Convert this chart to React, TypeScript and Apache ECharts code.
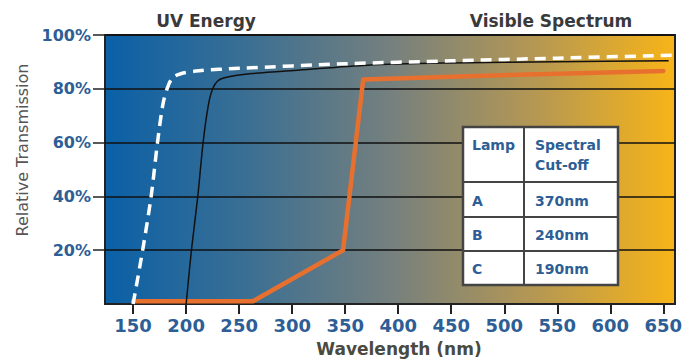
import React, { useEffect, useRef } from "react";
import * as echarts from "echarts";

const xTicks = [150, 200, 250, 300, 350, 400, 450, 500, 550, 600, 650];
const yTicks = [20, 40, 60, 80, 100];

const lampA: [number, number][] = [
  [150, 1], [263, 1], [348, 20], [367, 83.5], [450, 84.5], [550, 85.6], [650, 86.6],
];
const lampB: [number, number][] = [
  [200, 0], [205, 20], [211, 40], [216, 60], [221, 74], [225, 80], [230, 83], [238, 84.3],
  [260, 85.6], [307, 87], [371, 88.8], [450, 89.6], [550, 90.1], [655, 90.4],
];
const lampC: [number, number][] = [
  [150, 0], [159, 20], [167, 40], [173, 60], [178, 74], [182, 80], [187, 84], [195, 85.6],
  [212, 86.7], [250, 87.6], [350, 89.3], [450, 90.4], [550, 91.4], [661, 92.5],
];

const tableHeader = ["Lamp", "Spectral\nCut-off"];
const tableLamps = ["A", "B", "C"];
const tableCutoffs = ["370nm", "240nm", "190nm"];

const FONT = '"DejaVu Sans", sans-serif';
const BLUE = "#2d5e95";

export default function App() {
  const ref = useRef<HTMLDivElement>(null);
  useEffect(() => {
    if (!ref.current) return;
    const chart = echarts.init(ref.current, undefined, { renderer: "svg" });

    const tx0 = 463, tx1 = 524, tx2 = 618;
    const rowsY = [127, 182, 217, 251, 285];
    const tableEls: any[] = [];
    tableEls.push({
      type: "rect",
      shape: { x: tx0, y: rowsY[0], width: tx2 - tx0, height: rowsY[4] - rowsY[0] },
      style: { fill: "#ffffff", stroke: "#444444", lineWidth: 2.5 },
      z: 100,
    });
    tableEls.push({
      type: "line",
      shape: { x1: tx1, y1: rowsY[0], x2: tx1, y2: rowsY[4] },
      style: { stroke: "#444444", lineWidth: 2 },
      z: 101,
    });
    for (let i = 1; i < 4; i++) {
      tableEls.push({
        type: "line",
        shape: { x1: tx0, y1: rowsY[i], x2: tx2, y2: rowsY[i] },
        style: { stroke: "#444444", lineWidth: 2 },
        z: 101,
      });
    }
    const cellText = (text: string, x: number, y: number, va: string) => ({
      type: "text",
      x,
      y,
      z: 102,
      style: {
        text,
        fill: BLUE,
        font: `bold 14px ${FONT}`,
        textAlign: "left",
        textVerticalAlign: va,
        lineHeight: 20,
      },
    });
    tableEls.push(cellText(tableHeader[0], tx0 + 9, rowsY[0] + 8, "top"));
    tableEls.push(cellText(tableHeader[1], tx1 + 11, rowsY[0] + 8, "top"));
    for (let i = 0; i < 3; i++) {
      const cy = (rowsY[i + 1] + rowsY[i + 2]) / 2 + 1;
      tableEls.push(cellText(tableLamps[i], tx0 + 9, cy, "middle"));
      tableEls.push(cellText(tableCutoffs[i], tx1 + 11, cy, "middle"));
    }

    chart.setOption({
      animation: false,
      backgroundColor: "#ffffff",
      grid: {
        left: 105,
        right: 24,
        top: 35,
        bottom: 56,
        show: true,
        borderColor: "#222222",
        borderWidth: 2,
        backgroundColor: new echarts.graphic.LinearGradient(0, 0, 1, 0, [
          { offset: 0, color: "#0a60a7" },
          { offset: 0.25, color: "#3b6f93" },
          { offset: 0.5, color: "#75807e" },
          { offset: 0.75, color: "#b49754" },
          { offset: 1, color: "#f8b418" },
        ]),
      },
      xAxis: {
        type: "value",
        min: 123.5,
        max: 661,
        axisLine: { show: false },
        splitLine: { show: false },
        axisTick: {
          show: true,
          length: 10,
          lineStyle: { color: "#222", width: 2 },
          customValues: xTicks,
        },
        axisLabel: {
          customValues: xTicks,
          color: BLUE,
          fontFamily: FONT,
          fontWeight: "bold",
          fontSize: 18,
          margin: 12,
        },
      },
      yAxis: {
        type: "value",
        min: 0,
        max: 100,
        interval: 20,
        axisLine: { show: false },
        splitLine: { show: true, lineStyle: { color: "#111", width: 1.5 } },
        axisTick: {
          show: true,
          length: 12,
          lineStyle: { color: "#222", width: 1.5 },
          customValues: yTicks,
        },
        axisLabel: {
          customValues: yTicks,
          formatter: "{value}%",
          color: BLUE,
          fontFamily: FONT,
          fontWeight: "bold",
          fontSize: 16,
          margin: 14,
        },
      },
      series: [
        {
          name: "A",
          type: "line",
          data: lampA,
          showSymbol: false,
          lineStyle: { color: "#e8702f", width: 4.5, cap: "round", join: "round" },
          z: 3,
        },
        {
          name: "B",
          type: "line",
          data: lampB,
          showSymbol: false,
          smooth: 0.3,
          lineStyle: { color: "#111111", width: 1.5 },
          z: 4,
        },
        {
          name: "C",
          type: "line",
          data: lampC,
          showSymbol: false,
          smooth: 0.3,
          lineStyle: { color: "#ffffff", width: 3.5, type: [11, 7] },
          z: 5,
        },
      ],
      graphic: [
        {
          type: "text",
          x: 206,
          y: 21,
          style: {
            text: "UV Energy",
            fill: "#3a3a3a",
            font: `bold 17px ${FONT}`,
            textAlign: "center",
            textVerticalAlign: "middle",
          },
        },
        {
          type: "text",
          x: 551,
          y: 21,
          style: {
            text: "Visible Spectrum",
            fill: "#3a3a3a",
            font: `bold 17px ${FONT}`,
            textAlign: "center",
            textVerticalAlign: "middle",
          },
        },
        {
          type: "text",
          x: 22,
          y: 150,
          rotation: Math.PI / 2,
          style: {
            text: "Relative Transmission",
            fill: "#555555",
            font: `16px ${FONT}`,
            textAlign: "center",
            textVerticalAlign: "middle",
          },
        },
        {
          type: "text",
          x: 399,
          y: 349,
          style: {
            text: "Wavelength (nm)",
            fill: "#4a4a40",
            font: `bold 17px ${FONT}`,
            textAlign: "center",
            textVerticalAlign: "middle",
          },
        },
        ...tableEls,
      ],
    });
    return () => chart.dispose();
  }, []);
  return <div ref={ref} style={{ width: 699, height: 360, position: "absolute", left: 0, top: 0 }} />;
}
